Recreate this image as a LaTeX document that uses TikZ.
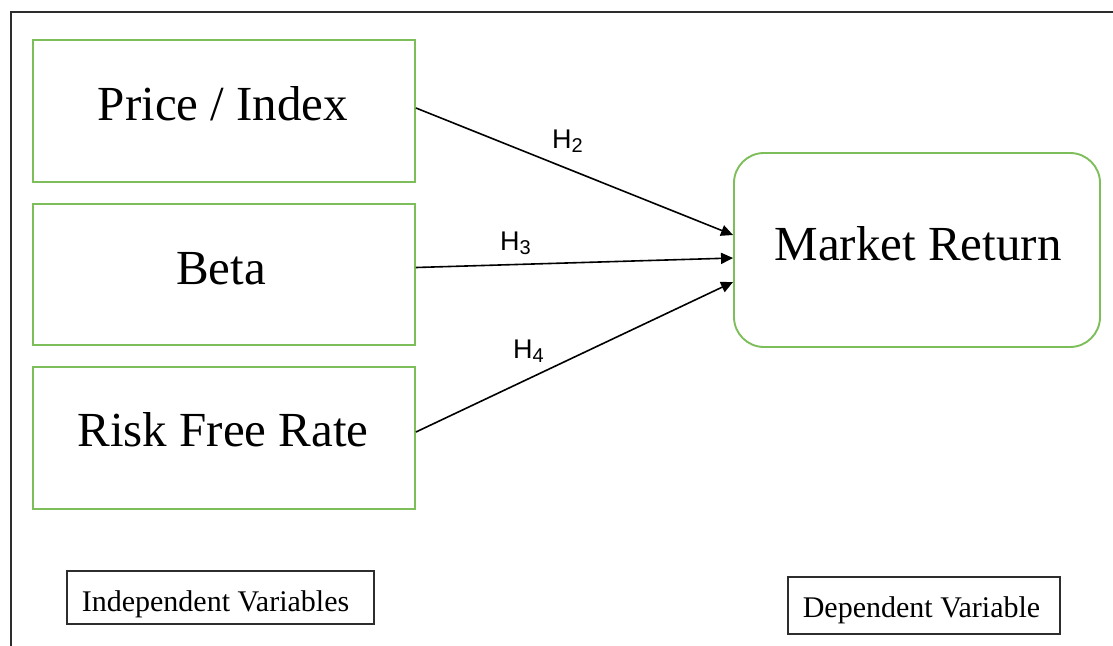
\documentclass[tikz,border=0pt]{standalone}
\usepackage{fontspec}
\setmainfont{Liberation Serif}
\newfontfamily\hfont{Liberation Sans}
\usetikzlibrary{arrows.meta,calc}
\definecolor{boxgreen}{RGB}{125,190,90}
\definecolor{framegray}{RGB}{45,45,45}
\tikzset{
  gbox/.style={draw=boxgreen, line width=1.9pt, rectangle, inner sep=0pt},
  kbox/.style={draw=framegray, line width=1.9pt, rectangle, inner sep=0pt},
  bigtxt/.style={anchor=base, inner sep=0pt, font=\fontsize{49}{49}\selectfont},
  smalltxt/.style={anchor=base, inner sep=0pt, font=\fontsize{30}{30}\selectfont},
  hlab/.style={anchor=base west, inner sep=0pt, font=\hfont\fontsize{27}{27}\selectfont},
  conn/.style={draw=black, line width=1.6pt, -{Triangle[length=12pt,width=11pt]}}
}
\newcommand{\hsub}[1]{\raisebox{-4pt}{\fontsize{20}{20}\selectfont #1}}
\begin{document}
\begin{tikzpicture}[x=1pt,y=-1pt]
\useasboundingbox (0,0) rectangle (1113,645);
% outer frame (left and top edges only visible)
\draw[framegray, line width=1.9pt] (11,650) -- (11,12) -- (1120,12);
% independent variable boxes
\node[gbox, minimum width=382pt, minimum height=142pt] (pi) at (224,111) {};
\node[gbox, minimum width=382pt, minimum height=141pt] (beta) at (224,274.5) {};
\node[gbox, minimum width=382pt, minimum height=142pt] (rfr) at (224,438) {};
% dependent variable box
\node[gbox, rounded corners=30pt, minimum width=366pt, minimum height=194pt] (mr) at (917,250) {};
% texts
\node[bigtxt] (tpi) at (223,120) {Price / Index};
\node[bigtxt] (tbeta) at (221,284) {Beta};
\node[bigtxt] (trfr) at (223,446) {Risk Free Rate};
\node[bigtxt] (tmr) at (918,260) {Market Return};
% legend boxes
\node[kbox, minimum width=307pt, minimum height=53pt] (ind) at (220.5,597.5) {};
\node[smalltxt] (tind) at (215.5,611) {Independent Variables};
\node[kbox, minimum width=272pt, minimum height=57pt] (dep) at (924,605.5) {};
\node[smalltxt] (tdep) at (921.5,617) {Dependent Variable};
% connectors
\draw[conn] ($(pi.east)+(0,-3)$) -- ($(mr.west)+(0,-15)$);
\draw[conn] ($(beta.east)+(0,-7)$) -- ($(mr.west)+(0,8)$);
\draw[conn] ($(rfr.east)+(0,-6)$) -- ($(mr.west)+(0,32)$);
% hypothesis labels
\node[hlab] (h2) at (552,148) {H\hsub{2}};
\node[hlab] (h3) at (500,250) {H\hsub{3}};
\node[hlab] (h4) at (513,358) {H\hsub{4}};
\end{tikzpicture}
\end{document}
